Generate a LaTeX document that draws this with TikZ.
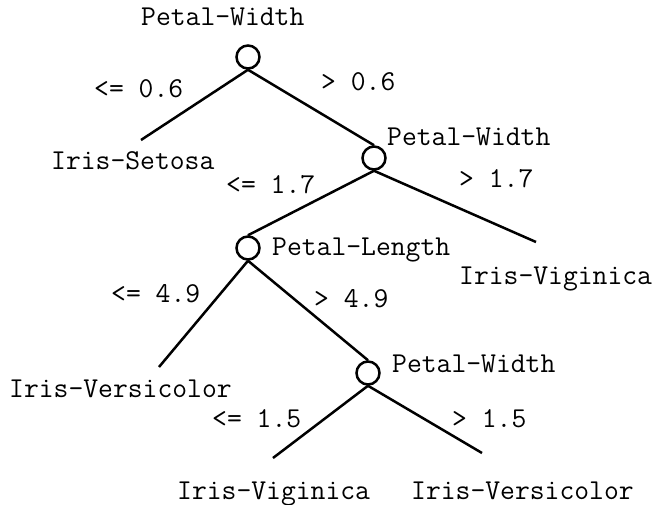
\documentclass[tikz,border=0pt]{standalone}
\usepackage{fontspec}
\begin{document}
\begin{tikzpicture}[x=1pt,y=-1pt,
  split/.style={circle,draw,line width=2.5pt,minimum size=23pt,inner sep=0pt},
  edge/.style={line width=2.5pt},
  lbl/.style={anchor=base west,inner sep=0pt,font=\ttfamily\fontsize{28.8}{32}\selectfont}]
\useasboundingbox (0,0) rectangle (659,504);
% decision nodes
\node[split] (c1) at (248,57) {};
\node[split] (c2) at (374,158) {};
\node[split] (c3) at (248,248) {};
\node[split] (c4) at (368,373) {};
% leaf ends
\coordinate (l1) at (141,140);
\coordinate (l2) at (536,242);
\coordinate (l3) at (159,367);
\coordinate (l4) at (273,458);
\coordinate (l5) at (482,453);
% connectors
\draw[edge] (c1.south) -- (l1);
\draw[edge] (c1.south) -- (c2.north);
\draw[edge] (c2.south) -- (c3.north);
\draw[edge] (c2.south) -- (l2);
\draw[edge] (c3.south) -- (l3);
\draw[edge] (c3.south) -- (c4.north);
\draw[edge] (c4.south) -- (l4);
\draw[edge] (c4.south) -- (l5);
% texts
\node[lbl] (t1) at (141,25) {Petal-Width};
\node[lbl] (e1) at (94,97) {<= 0.6};
\node[lbl] (e2) at (321,90) {> 0.6};
\node[lbl] (s1) at (51,169) {Iris-Setosa};
\node[lbl] (e3) at (226,193) {<= 1.7};
\node[lbl] (t2) at (387,145) {Petal-Width};
\node[lbl] (e4) at (459,187) {> 1.7};
\node[lbl] (s2) at (459,284) {Iris-Viginica};
\node[lbl] (t3) at (272,255) {Petal-Length};
\node[lbl] (e5) at (111,302) {<= 4.9};
\node[lbl] (e6) at (314,307) {> 4.9};
\node[lbl] (s3) at (9,397) {Iris-Versicolor};
\node[lbl] (t4) at (392,372) {Petal-Width};
\node[lbl] (e7) at (212,427) {<= 1.5};
\node[lbl] (e8) at (452,427) {> 1.5};
\node[lbl] (s4) at (177,499) {Iris-Viginica};
\node[lbl] (s5) at (411,499) {Iris-Versicolor};
\end{tikzpicture}
\end{document}
